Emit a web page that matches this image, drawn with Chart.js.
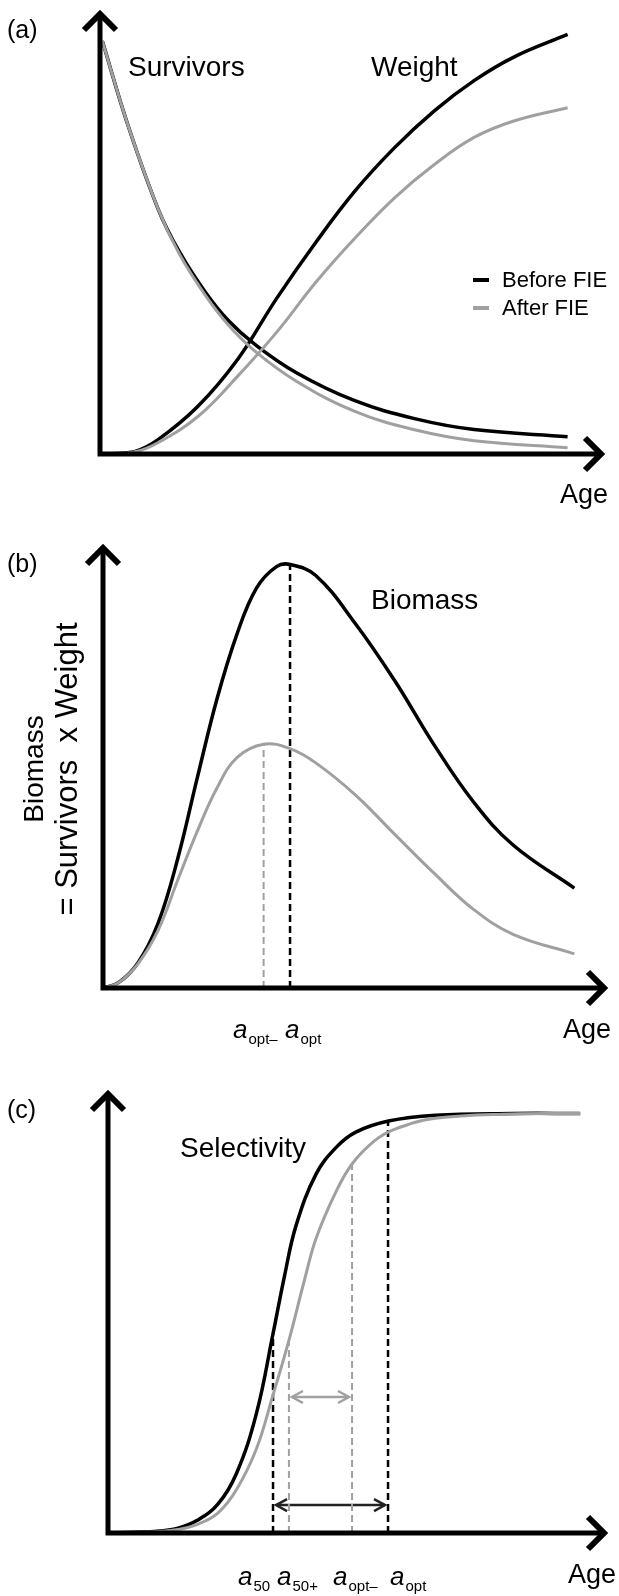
<!DOCTYPE html>
<html>
<head>
<meta charset="utf-8">
<script src="https://cdn.jsdelivr.net/npm/chart.js@4.4.1/dist/chart.umd.min.js"></script>
<style>
  html, body { margin: 0; padding: 0; background: #fff; }
  #wrap { position: relative; width: 619px; height: 1596px; overflow: hidden; background: #fff; }
  canvas { position: absolute; left: 0; }
</style>
</head>
<body>
<div id="wrap">
  <canvas id="panelA" width="619" height="520" style="top:0px"></canvas>
  <canvas id="panelB" width="619" height="540" style="top:520px"></canvas>
  <canvas id="panelC" width="619" height="536" style="top:1060px"></canvas>
</div>
<script>
// (a) survivors + weight at age (y is 0..100, 100 = top of the axis arrow)
const survAge    = [0.1, 1.2, 2.5, 3.4, 4.5, 5.5, 6.6, 8.4, 10.9, 13.5, 16, 20];
const survBefore = [93, 74, 55, 45.5, 36.5, 30, 24.8, 18.3, 12, 7.9, 5.5, 3.9];
const survAfter  = [93, 74, 55, 45, 35.8, 29, 23.3, 16.4, 9.6, 5.4, 3.0, 1.4];

const weightAge    = [0.3, 1.5, 2.5, 4.2, 5.9, 7.55, 9.25, 10.9, 12.6, 14.3, 16, 17.7, 20];
const weightBefore = [0, 0.6, 3.3, 10.8, 21.4, 35, 47.8, 59.2, 69, 77.3, 84.1, 89.4, 94.5];
const weightAfter  = [0, 0.5, 2.6, 8.5, 17.6, 27.4, 38.8, 48.6, 57.7, 65.2, 71.3, 75, 78];

const legendLabels = ['Before FIE', 'After FIE'];

// (b) biomass
const bioAgeBefore = [0, 0.66, 1.5, 2.35, 3.19, 4.04, 4.88, 5.73, 6.57, 7.42, 8.0, 9.1, 10.79, 12.48, 14.17, 15.85, 17.54, 20.16];
const bioBefore    = [0, 1.2, 5.7, 14.5, 29, 47.5, 65.2, 79.7, 90.1, 94.9, 95.4, 92.9, 82.1, 69.2, 54.7, 41.9, 32.2, 22.5];
const bioAgeAfter  = [0, 0.66, 1.5, 2.35, 3.19, 4.04, 4.88, 5.73, 6.87, 8.0, 9.1, 10.79, 12.48, 14.17, 15.85, 17.54, 20.16];
const bioAfter     = [0, 1.2, 5.5, 12.9, 24.2, 35.4, 45.1, 51.9, 54.9, 53.9, 50.7, 43.5, 34.6, 25.8, 17.7, 12.1, 7.7];
const bioMarkAge = [6.87, 8.0];        // a_opt-, a_opt
const bioMarkTop = [54.9, 95.4];

// (c) selectivity
const selAgeBefore = [0, 2.1, 3.0, 3.8, 4.7, 5.5, 6.35, 7.06, 7.55, 8.05, 8.9, 9.75, 10.6, 12.0, 14.0, 17.3, 20.2];
const selBefore    = [0, 0.4, 1.1, 2.8, 6.5, 13.5, 27, 45, 58, 69.5, 81, 87, 90.5, 93, 94.3, 94.7, 94.7];
const selAgeAfter  = [0, 2.1, 3.0, 3.8, 4.7, 5.5, 6.35, 7.05, 7.74, 8.4, 8.9, 9.75, 10.44, 11.4, 12.25, 14.0, 17.3, 20.2];
const selAfter     = [0, 0.3, 0.8, 1.9, 4.5, 9.8, 19, 31, 43.5, 57, 66.5, 77, 83.3, 88.5, 91.1, 93.6, 94.6, 94.7];
const selMarkAge = [7.06, 7.74, 10.44, 11.98];   // a50, a50+, a_opt-, a_opt
const selMarkTop = [45, 43.5, 83.3, 93];
const spanBeforeAge = [7.19, 11.85];
const spanBeforeLevel = 6.3;
const spanAfterAge = [7.87, 10.31];
const spanAfterLevel = 30.7;

const BLACK = '#000000';
const GREY = '#a0a0a0';
const FONT = "'Liberation Sans', Arial, Helvetica, sans-serif";

function curve(ages, values, color, width) {
  return {
    data: ages.map((a, i) => ({ x: a, y: values[i] })),
    borderColor: color,
    borderWidth: width,
    pointRadius: 0,
    fill: false,
    tension: 0.4,
    clip: false
  };
}

function marker(age, top, color, width) {
  return {
    data: [{ x: age, y: 0 }, { x: age, y: top }],
    borderColor: color,
    borderWidth: width,
    borderDash: [7, 4],
    pointRadius: 0,
    fill: false,
    clip: false
  };
}

function span(ages, level, color) {
  return {
    data: ages.map(a => ({ x: a, y: level })),
    borderColor: color,
    borderWidth: 2.5,
    pointRadius: 0,
    fill: false,
    clip: false,
    doubleArrow: true
  };
}

// axes with chevron arrow heads, drawn on top of the curves
const axisArrows = {
  id: 'axisArrows',
  afterDatasetsDraw(chart) {
    const { ctx, chartArea: { left, right, top, bottom } } = chart;
    ctx.save();
    ctx.strokeStyle = BLACK;
    ctx.lineWidth = 5;
    ctx.lineCap = 'butt';
    ctx.beginPath();
    ctx.moveTo(left, top + 4);
    ctx.lineTo(left, bottom + 2.5);
    ctx.moveTo(left - 2.5, bottom);
    ctx.lineTo(right - 4, bottom);
    ctx.stroke();

    ctx.lineWidth = 6;
    ctx.lineJoin = 'miter';
    ctx.beginPath();
    ctx.moveTo(left - 16, top + 20);
    ctx.lineTo(left, top + 4);
    ctx.lineTo(left + 16, top + 20);
    ctx.moveTo(right - 20, bottom - 16);
    ctx.lineTo(right - 4, bottom);
    ctx.lineTo(right - 20, bottom + 16);
    ctx.stroke();

    // small double-headed arrows
    chart.data.datasets.forEach((ds, i) => {
      if (!ds.doubleArrow) return;
      const pts = chart.getDatasetMeta(i).data;
      const a = pts[0], b = pts[pts.length - 1];
      ctx.strokeStyle = ds.borderColor;
      ctx.lineWidth = 2.5;
      ctx.lineJoin = 'miter';
      ctx.beginPath();
      ctx.moveTo(a.x + 11, a.y - 6);
      ctx.lineTo(a.x, a.y);
      ctx.lineTo(a.x + 11, a.y + 6);
      ctx.moveTo(b.x - 11, b.y - 6);
      ctx.lineTo(b.x, b.y);
      ctx.lineTo(b.x - 11, b.y + 6);
      ctx.stroke();
    });
    ctx.restore();
  }
};

function text(ctx, str, x, y, size, opts = {}) {
  ctx.font = `${opts.italic ? 'italic ' : ''}${size}px ${FONT}`;
  ctx.fillStyle = opts.color || BLACK;
  ctx.textAlign = opts.align || 'left';
  ctx.textBaseline = 'alphabetic';
  ctx.fillText(str, x, y);
}

// italic "a" with a subscript
function subLabel(ctx, x, y, sub) {
  text(ctx, 'a', x, y, 26, { italic: true });
  ctx.font = `italic 26px ${FONT}`;
  const w = ctx.measureText('a').width;
  text(ctx, sub, x + w + 1, y + 6, 15);
}

function makePanel(id, datasets, padding, xMax, drawText) {
  const ctx = document.getElementById(id).getContext('2d');
  return new Chart(ctx, {
    type: 'line',
    data: { datasets },
    options: {
      responsive: false,
      maintainAspectRatio: false,
      animation: false,
      events: [],
      layout: { padding },
      plugins: { legend: { display: false }, tooltip: { enabled: false } },
      scales: {
        x: { type: 'linear', display: false, min: 0, max: xMax },
        y: { type: 'linear', display: false, min: 0, max: 100 }
      }
    },
    plugins: [axisArrows, { id: id + 'Text', afterDraw: chart => drawText(chart.ctx, chart) }]
  });
}

// ---- panel (a)
makePanel('panelA', [
  curve(survAge, survAfter, GREY, 3),
  curve(weightAge, weightAfter, GREY, 3),
  curve(survAge, survBefore, BLACK, 3.5),
  curve(weightAge, weightBefore, BLACK, 3.5)
], { left: 100, right: 14, top: 10, bottom: 66 }, 21.6, (ctx) => {
  ctx.save();
  text(ctx, '(a)', 7, 38, 25);
  text(ctx, 'Survivors', 128, 76, 28);
  text(ctx, 'Weight', 371, 76, 28);
  text(ctx, 'Age', 560, 503, 27);
  // legend
  [BLACK, GREY].forEach((c, i) => {
    const y = 280 + i * 28;
    ctx.strokeStyle = c;
    ctx.lineWidth = 4;
    ctx.beginPath();
    ctx.moveTo(473, y);
    ctx.lineTo(489, y);
    ctx.stroke();
    text(ctx, legendLabels[i], 502, y + 7, 22);
  });
  ctx.restore();
});

// ---- panel (b)
makePanel('panelB', [
  curve(bioAgeAfter, bioAfter, GREY, 3),
  curve(bioAgeBefore, bioBefore, BLACK, 3.5),
  marker(bioMarkAge[0], bioMarkTop[0], GREY, 2),
  marker(bioMarkAge[1], bioMarkTop[1], BLACK, 2.5)
], { left: 103, right: 11, top: 24, bottom: 72 }, 21.6, (ctx) => {
  ctx.save();
  text(ctx, '(b)', 7, 52, 25);
  text(ctx, 'Biomass', 371, 89, 28);
  text(ctx, 'Age', 563, 518, 27);
  subLabel(ctx, 233, 518, 'opt\u2013');
  subLabel(ctx, 285, 518, 'opt');
  // rotated y title
  ctx.save();
  ctx.translate(43, 249);
  ctx.rotate(-Math.PI / 2);
  text(ctx, 'Biomass', 0, 0, 28, { align: 'center' });
  ctx.restore();
  ctx.save();
  ctx.translate(77, 249);
  ctx.rotate(-Math.PI / 2);
  text(ctx, '= Survivors  x Weight', 0, 0, 31, { align: 'center' });
  ctx.restore();
  ctx.restore();
});

// ---- panel (c)
makePanel('panelC', [
  curve(selAgeAfter, selAfter, GREY, 3),
  curve(selAgeBefore, selBefore, BLACK, 3.5),
  marker(selMarkAge[0], selMarkTop[0], BLACK, 2.5),
  marker(selMarkAge[1], selMarkTop[1], GREY, 2),
  marker(selMarkAge[2], selMarkTop[2], GREY, 2),
  marker(selMarkAge[3], selMarkTop[3], BLACK, 2.5),
  span(spanAfterAge, spanAfterLevel, GREY),
  span(spanBeforeAge, spanBeforeLevel, '#222222')
], { left: 108, right: 11, top: 30, bottom: 63 }, 21.39, (ctx) => {
  ctx.save();
  text(ctx, '(c)', 7, 58, 25);
  text(ctx, 'Selectivity', 180, 97, 28);
  text(ctx, 'Age', 568, 523, 27);
  subLabel(ctx, 238, 525, '50');
  subLabel(ctx, 277, 525, '50+');
  subLabel(ctx, 333, 525, 'opt\u2013');
  subLabel(ctx, 390, 525, 'opt');
  ctx.restore();
});
</script>
</body>
</html>
